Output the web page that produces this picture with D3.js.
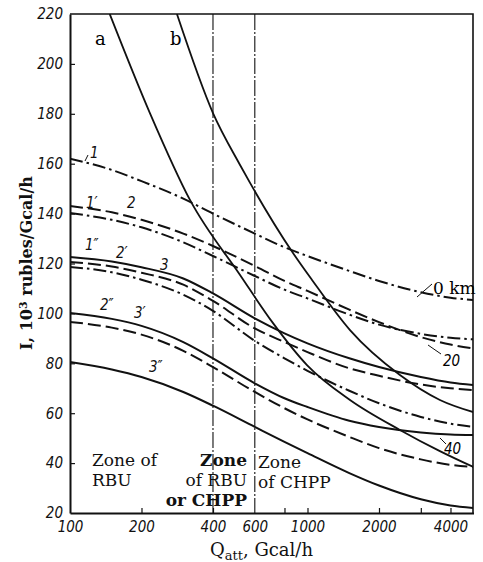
<!DOCTYPE html>
<html>
<head>
<meta charset="utf-8">
<script src="https://cdn.jsdelivr.net/npm/d3@7"></script>
<style>
  html, body { margin: 0; padding: 0; background: #fff; }
  svg { display: block; }
</style>
</head>
<body>
<svg id="chart" width="483" height="562"></svg>
<script>
// Heat supply cost I versus attached load Q, with RBU / CHPP zones.
const qGrid = [100, 150, 200, 300, 400, 600, 800, 1000, 1500, 2000, 3000, 4000, 5000];

// Dash-dot family (1, 2, 3 -> 0, 20, 40 km)
const c1   = [162, 157.5, 153, 146, 140, 132, 126.5, 123, 117, 113, 108.5, 106.3, 105.4];
const c2   = [140.2, 137.5, 134.5, 128.5, 123, 115, 109.5, 106, 99.5, 95.5, 91.8, 90.2, 89.6];
const c3   = [118.6, 116.5, 113.5, 107.5, 101, 89, 82, 77, 69, 64, 58.5, 55.8, 54.5];
// Dashed family (1', 2', 3')
const c1p  = [143, 140.5, 137.5, 132, 127, 119, 113, 109, 101.5, 96.5, 90.5, 87.5, 86];
const c2p  = [120.6, 118.8, 116.3, 111.5, 105, 94, 88.5, 84.5, 78, 75, 71.5, 70, 69.3];
const c3p  = [96.6, 94.3, 91.5, 85, 78.5, 68.5, 62, 57.5, 50.5, 46, 41.5, 39.3, 38.4];
// Solid family (1'', 2'', 3'')
const c1pp = [122.6, 120.8, 118.5, 114, 108, 98, 92, 88, 82, 78.5, 74.5, 72.3, 71.3];
const c2pp = [100.2, 97.8, 95, 88.5, 82, 72, 66, 62.5, 57, 54.5, 52.3, 51.5, 51.3];
const c3pp = [80.5, 77.5, 74.5, 68.5, 63, 54.5, 48.5, 44, 36, 31, 25.5, 23, 22];

// Steep curves a and b
const aQ = [147, 217, 320, 520, 716, 995, 1510, 2450, 3610, 5000];
const aI = [220, 180.3, 145.5, 115.4, 96.1, 79.3, 65.3, 53.3, 44.8, 38.4];
const bQ = [282, 400, 520, 573, 869, 1045, 1510, 2450, 3610, 5000];
const bI = [220, 180.3, 159.5, 152.3, 124.2, 113.4, 93.3, 75.3, 65.3, 60.4];

const yTicks = [20, 40, 60, 80, 100, 120, 140, 160, 180, 200, 220];
const xTicks = [100, 200, 400, 600, 800, 1000, 2000, 3000, 4000];
const xLabels = [100, 200, 400, 600, 1000, 2000, 4000];
const zoneQ = [400, 600];

const svg = d3.select("#chart");
const M = { left: 70, right: 473, top: 14, bottom: 513 };

const x = d3.scaleLog().domain([100, 5000]).range([M.left, 473.5]);
const y = d3.scaleLinear().domain([20, 220]).range([M.bottom, M.top]);

svg.append("defs").append("clipPath").attr("id", "plot")
  .append("rect").attr("x", M.left).attr("y", M.top)
  .attr("width", M.right - M.left).attr("height", M.bottom - M.top);

const tickFont = "'DejaVu Sans Condensed', 'DejaVu Sans', sans-serif";
const serif = "'DejaVu Serif', 'Liberation Serif', serif";

// Axes
const yAxis = svg.append("g").attr("transform", `translate(${M.left},0)`)
  .call(d3.axisLeft(y).tickValues(yTicks).tickSize(-5).tickPadding(7).tickSizeOuter(0));
const xAxis = svg.append("g").attr("transform", `translate(0,${M.bottom})`)
  .call(d3.axisBottom(x).tickValues(xTicks).tickSize(-5).tickPadding(8).tickSizeOuter(0)
    .tickFormat(d => xLabels.includes(d) ? String(d) : ""));
[yAxis, xAxis].forEach(g => {
  g.selectAll("path.domain").attr("stroke", "#111").attr("stroke-width", 2);
  g.selectAll(".tick line").attr("stroke", "#111").attr("stroke-width", 1.2);
  g.selectAll("text").attr("font-family", tickFont).attr("font-style", "italic")
    .attr("font-size", 15).attr("fill", "#111");
});
xAxis.selectAll(".tick").filter(d => d === 100 || d === 600).select("line").remove();
yAxis.selectAll(".tick").filter(d => d === 20 || d === 220).select("line").remove();

// Frame top and right
svg.append("path")
  .attr("d", `M${M.left},${M.top}H${M.right}V${M.bottom}`)
  .attr("fill", "none").attr("stroke", "#111").attr("stroke-width", 1.6);

// Zone boundaries
svg.selectAll("line.zone").data(zoneQ).join("line")
  .attr("class", "zone")
  .attr("x1", d => x(d)).attr("x2", d => x(d))
  .attr("y1", M.top).attr("y2", M.bottom)
  .attr("stroke", "#111").attr("stroke-width", 1.1)
  .attr("stroke-dasharray", "16,2,2,2");

const line = d3.line().x(d => x(d[0])).y(d => y(d[1])).curve(d3.curveMonotoneX);
const plot = svg.append("g").attr("clip-path", "url(#plot)");

const DASHDOT = "13,4,2.5,4";
const DASHED = "13,5";
const families = [
  { v: c1, dash: DASHDOT }, { v: c2, dash: DASHDOT }, { v: c3, dash: DASHDOT },
  { v: c1p, dash: DASHED }, { v: c2p, dash: DASHED }, { v: c3p, dash: DASHED },
  { v: c1pp, dash: null }, { v: c2pp, dash: null }, { v: c3pp, dash: null }
];
families.forEach(f => {
  plot.append("path")
    .datum(qGrid.map((q, i) => [q, f.v[i]]))
    .attr("d", line)
    .attr("fill", "none").attr("stroke", "#111").attr("stroke-width", 2)
    .attr("stroke-dasharray", f.dash);
});
[[aQ, aI], [bQ, bI]].forEach(([qs, vs]) => {
  plot.append("path")
    .datum(qs.map((q, i) => [q, vs[i]]))
    .attr("d", line)
    .attr("fill", "none").attr("stroke", "#111").attr("stroke-width", 1.8);
});

// Curve labels
const curveLabels = [
  ["1", 90, 158], ["1'", 86, 208], ["2", 127, 208],
  ["1''", 85, 250], ["2'", 116, 258], ["3", 160, 270],
  ["2''", 100, 310], ["3'", 134, 318], ["3''", 149, 372]
];
svg.selectAll("text.cl").data(curveLabels).join("text")
  .attr("class", "cl")
  .attr("x", d => d[1]).attr("y", d => d[2])
  .attr("font-family", tickFont).attr("font-style", "italic").attr("font-size", 15)
  .attr("fill", "#111")
  .text(d => d[0].replace(/''/g, "\u2033").replace(/'/g, "\u2032"));
svg.append("line").attr("x1", 85).attr("y1", 161).attr("x2", 88).attr("y2", 155)
  .attr("stroke", "#111").attr("stroke-width", 1);

// a, b
svg.append("text").attr("x", 95).attr("y", 45).attr("font-family", serif).attr("font-size", 18).text("a");
svg.append("text").attr("x", 170).attr("y", 45).attr("font-family", serif).attr("font-size", 18).text("b");

// Distance labels with leaders
const leaders = [
  [[417, 297], [432, 284]], [[428, 345], [441, 354]], [[440, 438], [446, 444]]
];
leaders.forEach(([p, q]) => svg.append("line")
  .attr("x1", p[0]).attr("y1", p[1]).attr("x2", q[0]).attr("y2", q[1])
  .attr("stroke", "#111").attr("stroke-width", 1));
svg.append("text").attr("x", 433).attr("y", 294).attr("font-family", serif).attr("font-size", 17).text("0 km");
svg.append("text").attr("x", 443).attr("y", 366).attr("font-family", tickFont).attr("font-style", "italic").attr("font-size", 15).text("20");
svg.append("text").attr("x", 444).attr("y", 454).attr("font-family", tickFont).attr("font-style", "italic").attr("font-size", 15).text("40");

// Zone captions
const zoneText = [
  ["Zone of", 92, 466, "start", "normal"], ["RBU", 92, 486, "start", "normal"],
  ["Zone", 247, 466, "end", "bold"], ["of RBU", 247, 486, "end", "normal"], ["or CHPP", 247, 506, "end", "bold"],
  ["Zone", 258, 468, "start", "normal"], ["of CHPP", 258, 488, "start", "normal"]
];
svg.selectAll("text.zt").data(zoneText).join("text")
  .attr("class", "zt")
  .attr("x", d => d[1]).attr("y", d => d[2])
  .attr("text-anchor", d => d[3]).attr("font-weight", d => d[4])
  .attr("font-family", serif).attr("font-size", 17).attr("fill", "#111")
  .text(d => d[0]);

// Axis titles
const yt = svg.append("text")
  .attr("transform", "translate(32,263) rotate(-90)")
  .attr("text-anchor", "middle")
  .attr("font-family", serif).attr("font-size", 16).attr("font-weight", "bold").attr("fill", "#111");
yt.append("tspan").text("I, 10");
yt.append("tspan").attr("dy", -5).attr("font-size", 11).text("3");
yt.append("tspan").attr("dy", 5).text(" rubles/Gcal/h");

const xt = svg.append("text")
  .attr("x", 210).attr("y", 556)
  .attr("font-family", serif).attr("font-size", 18).attr("fill", "#111");
xt.append("tspan").text("Q");
xt.append("tspan").attr("dy", 4).attr("font-size", 13).text("att");
xt.append("tspan").attr("dy", -4).text(", Gcal/h");
</script>
</body>
</html>
